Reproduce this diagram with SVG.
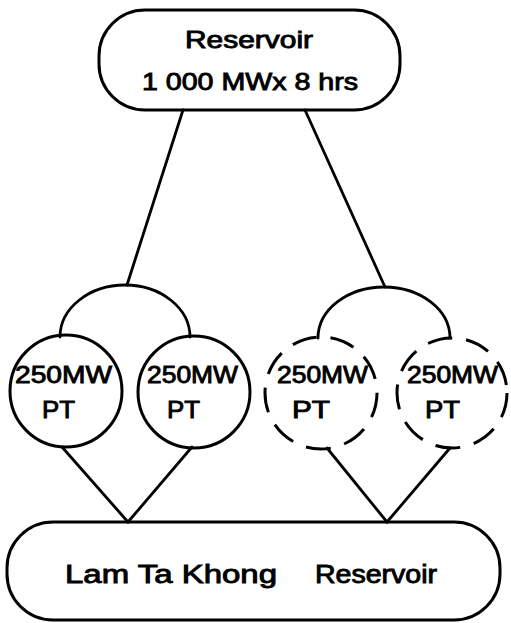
<svg xmlns="http://www.w3.org/2000/svg" width="511" height="623" viewBox="0 0 511 623">
<style>
.box{fill:none;stroke:#000;stroke-width:3}
.pt{fill:none;stroke:#000;stroke-width:3}
.dash{stroke-dasharray:25 14}
.c{fill:none;stroke:#000;stroke-width:2.8;stroke-linecap:round}
text{font-family:"Liberation Sans",Arial,sans-serif;fill:#000;stroke:#000;stroke-width:0.9}
.t24{font-size:24px}
.t25{font-size:24px}
.t26{font-size:25px}
</style>
<rect width="511" height="623" fill="#fff"/>
<g id="connectors">
<path class="c" d="M183,110 L127,285"/>
<path class="c" d="M305,110 L385,287"/>
<path class="c" d="M60,337 A65,52 0 0 1 190,337"/>
<path class="c" d="M318,338 A66,51 0 0 1 450,338"/>
<path class="c" d="M62,447 L128,522 L192,447"/>
<path class="c" d="M327,448 L387,522 L450,448"/>
</g>
<g id="reservoir">
<rect class="box" x="99" y="10" width="301" height="100" rx="46" ry="46"/>
<text class="t24" x="185" y="48" textLength="128" lengthAdjust="spacingAndGlyphs">Reservoir</text>
<text class="t24" x="142" y="90" textLength="216" lengthAdjust="spacingAndGlyphs">1 000 MWx 8 hrs</text>
</g>
<g id="pt1">
<circle class="pt" cx="66" cy="391" r="56"/>
<text class="t25" x="15" y="383" textLength="97" lengthAdjust="spacingAndGlyphs">250MW</text>
<text class="t25" x="42" y="418" textLength="33" lengthAdjust="spacingAndGlyphs">PT</text>
</g>
<g id="pt2">
<circle class="pt" cx="194" cy="392" r="56"/>
<text class="t25" x="147" y="383" textLength="91" lengthAdjust="spacingAndGlyphs">250MW</text>
<text class="t25" x="167" y="418" textLength="33" lengthAdjust="spacingAndGlyphs">PT</text>
</g>
<g id="pt3">
<circle class="pt dash" cx="321" cy="393" r="56"/>
<text class="t25" x="277" y="383" textLength="91" lengthAdjust="spacingAndGlyphs">250MW</text>
<text class="t25" x="292" y="418" textLength="38" lengthAdjust="spacingAndGlyphs">PT</text>
</g>
<g id="pt4">
<circle class="pt dash" cx="452" cy="393" r="55"/>
<text class="t25" x="407" y="383" textLength="91" lengthAdjust="spacingAndGlyphs">250MW</text>
<text class="t25" x="425" y="418" textLength="35" lengthAdjust="spacingAndGlyphs">PT</text>
</g>
<g id="lamtakhong">
<rect class="box" x="7" y="522" width="493" height="98" rx="46" ry="46"/>
<text class="t26" x="65" y="583" textLength="212" lengthAdjust="spacingAndGlyphs">Lam Ta Khong</text>
<text class="t26" x="315" y="583" textLength="122" lengthAdjust="spacingAndGlyphs">Reservoir</text>
</g>
</svg>
